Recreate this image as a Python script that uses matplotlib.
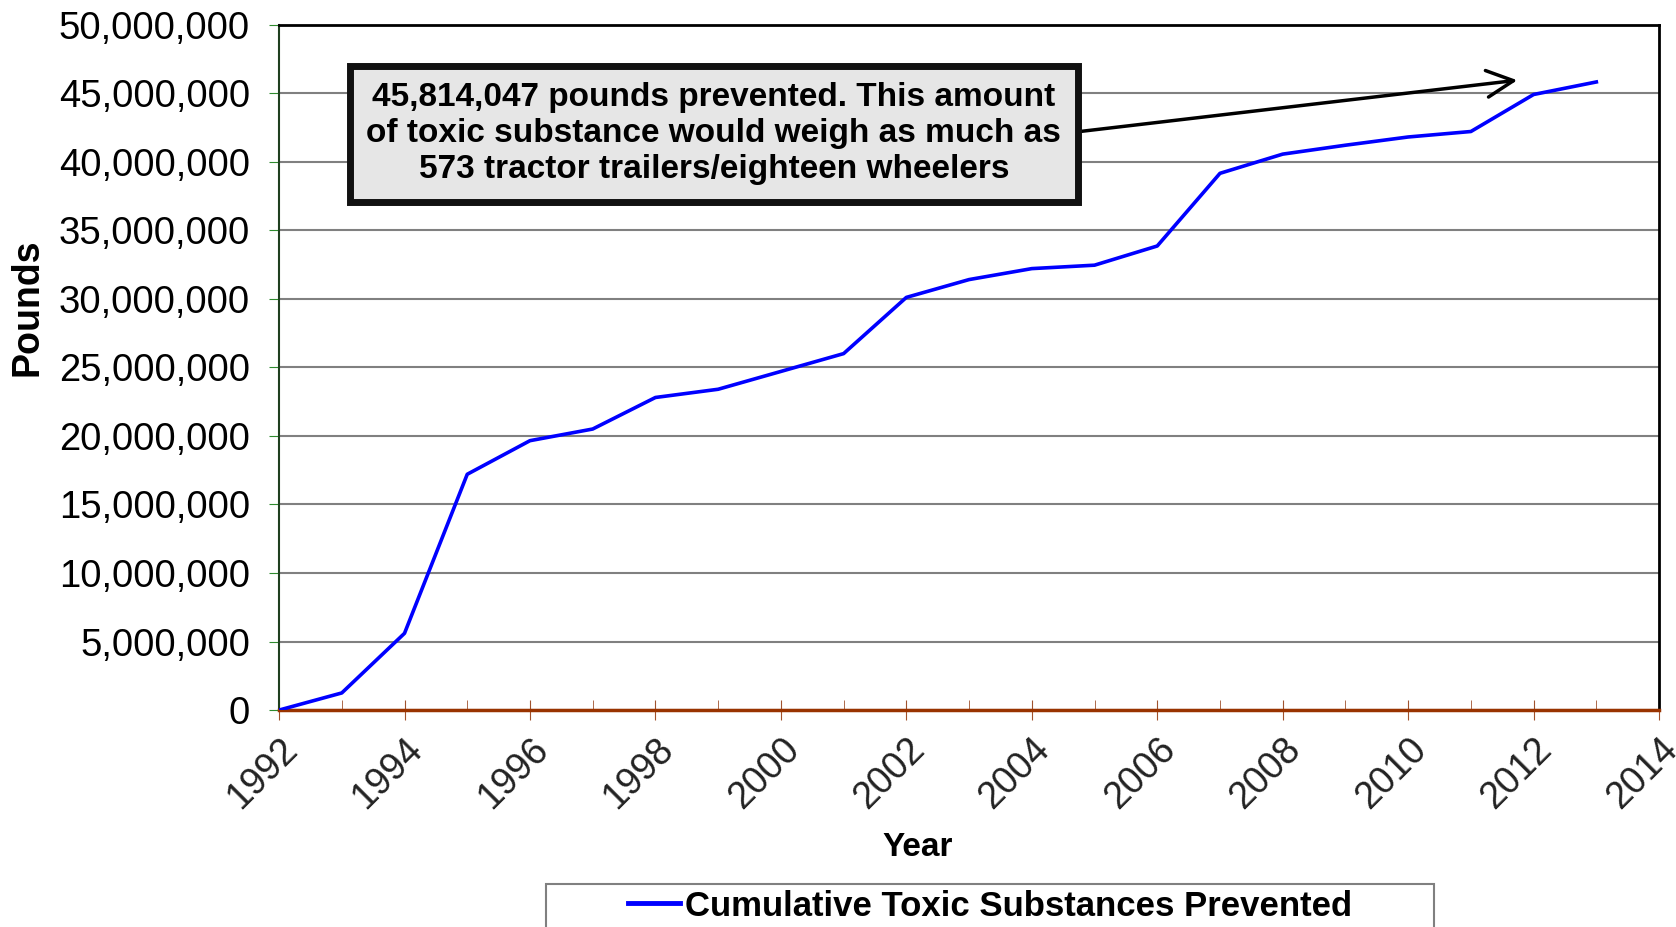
import numpy as np
import matplotlib.pyplot as plt
from matplotlib.patches import Rectangle
from matplotlib.ticker import FuncFormatter, MultipleLocator

plt.rcParams['font.family'] = ['Liberation Sans', 'DejaVu Sans']

# cumulative pounds prevented
years = list(range(1992, 2014))
pounds = [0, 1250000, 5600000, 17200000, 19650000, 20500000, 22800000,
          23400000, 24700000, 26000000, 30100000, 31400000, 32200000,
          32450000, 33850000, 39150000, 40550000, 41200000, 41800000,
          42200000, 44900000, 45814047]

note = ('45,814,047 pounds prevented. This amount\n'
        'of toxic substance would weigh as much as\n'
        '573 tractor trailers/eighteen wheelers')

W, H = 1676, 927
fig = plt.figure(figsize=(W / 100, H / 100), dpi=100)
ax = fig.add_axes([0.1665, 0.234, 0.8234, 0.7395])

ax.plot(years, pounds, color='#0000ff', linewidth=2.6,
        label='Cumulative Toxic Substances Prevented', zorder=3)

ax.set_xlim(1992, 2014)
ax.set_ylim(0, 50000000)
ax.xaxis.set_major_locator(MultipleLocator(2))
ax.xaxis.set_minor_locator(MultipleLocator(1))
ax.yaxis.set_major_locator(MultipleLocator(5000000))
ax.yaxis.set_major_formatter(FuncFormatter(lambda v, p: '{:,.0f}'.format(v)))

ax.grid(axis='y', color='#808080', linewidth=1.5, zorder=0)

ax.tick_params(axis='y', labelsize=27.5, colors='#2e8b2e', labelcolor='black',
               length=7, direction='out', pad=14)
ax.tick_params(axis='x', which='major', labelsize=27, colors='#a0522d',
               labelcolor='#222222', length=14, direction='inout', pad=8)
ax.tick_params(axis='x', which='minor', colors='#a0522d', length=7,
               direction='in')
for lab in ax.get_xticklabels():
    lab.set_rotation(45)
    lab.set_ha('right')
    lab.set_rotation_mode('anchor')

ax.spines['left'].set_color('#1f3f1f')
ax.spines['left'].set_linewidth(1.5)
ax.spines['bottom'].set_color('#993300')
ax.spines['bottom'].set_linewidth(2.5)
ax.spines['top'].set_color('black')
ax.spines['top'].set_linewidth(2)
ax.spines['right'].set_color('black')
ax.spines['right'].set_linewidth(2)

# axis titles
fig.text(27 / W, 1 - 307 / H, 'Pounds', rotation=90, ha='center', va='center',
         fontsize=27, fontweight='bold')
fig.text(918 / W, 1 - 848 / H, 'Year', ha='center', va='center',
         fontsize=24, fontweight='bold')

ax.annotate(note, xy=(2011.74, 45940000), xytext=(1998.93, 42040000),
            xycoords='data', textcoords='data',
            ha='center', va='center', fontsize=24, fontweight='bold',
            linespacing=1.2,
            bbox=dict(boxstyle='square,pad=0.5', facecolor='#e6e6e6',
                      edgecolor='#111111', linewidth=5),
            arrowprops=dict(arrowstyle='->,head_length=0.8,head_width=0.4',
                            color='black', linewidth=2.5,
                            relpos=(1, 0.5), shrinkA=0, shrinkB=0),
            zorder=5)

fig.text(1020 / W, 1 - 10 / H, 'Prevention', ha='center', va='bottom',
         fontsize=35, fontweight='bold')

# legend with a wide frame drawn separately
fig.patches.append(Rectangle((546 / W, -0.05), (1434 - 546) / W,
                             0.05 + 1 - 884 / H, transform=fig.transFigure,
                             facecolor='white', edgecolor='#808080',
                             linewidth=1.5, zorder=1))
leg = fig.legend(loc='center', bbox_to_anchor=(990 / W, 1 - 906 / H),
                 fontsize=25, frameon=False, handlelength=1.5,
                 handletextpad=0.15, borderpad=0, borderaxespad=0)
for t in leg.get_texts():
    t.set_fontweight('bold')
for h in leg.get_lines():
    h.set_linewidth(3.5)

fig.savefig('out.png', dpi=100)
